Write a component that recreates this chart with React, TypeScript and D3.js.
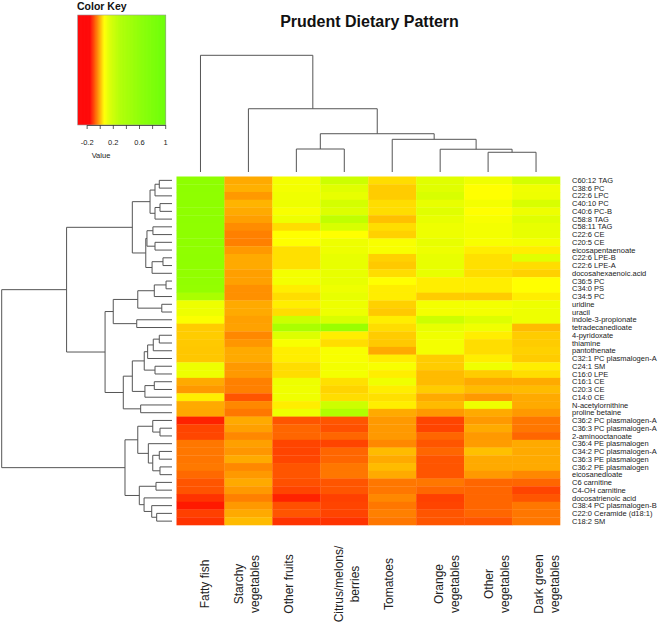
import React from "react";
import * as d3 from "d3";

const rowLabels = [
  "C60:12 TAG", "C38:6 PC", "C22:6 LPC", "C40:10 PC", "C40:6 PC-B", "C58:8 TAG", "C58:11 TAG",
  "C22:6 CE", "C20:5 CE", "eicosapentaenoate", "C22:6 LPE-B", "C22:6 LPE-A", "docosahexaenoic.acid",
  "C36:5 PC", "C34:0 PS", "C34:5 PC", "uridine", "uracil", "indole-3-propionate", "tetradecanedioate",
  "4-pyridoxate", "thiamine", "pantothenate", "C32:1 PC plasmalogen-A", "C24:1 SM", "C16:0 LPE",
  "C16:1 CE", "C20:3 CE", "C14:0 CE", "N-acetylornithine", "proline betaine", "C36:2 PC plasmalogen-A",
  "C36:3 PC plasmalogen-A", "2-aminooctanoate", "C36:4 PE plasmalogen", "C34:2 PC plasmalogen-A",
  "C36:3 PE plasmalogen", "C36:2 PE plasmalogen", "eicosanedioate", "C6 carnitine", "C4-OH carnitine",
  "docosatrienoic acid", "C38:4 PC plasmalogen-B", "C22:0 Ceramide (d18:1)", "C18:2 SM",
];

const colLabels = [
  "Fatty fish", "Starchy vegetables", "Other fruits", "Citrus/melons/berries", "Tomatoes",
  "Orange vegetables", "Other vegetables", "Dark green vegetables",
];
const colLabelLines = [
  ["", "Fatty fish"], ["Starchy", "vegetables"], ["Other fruits"], ["Citrus/melons/", "berries"],
  ["Tomatoes"], ["Orange", "vegetables"], ["Other", "vegetables"], ["Dark green", "vegetables"],
];

const fattyFish = [0.58, 0.58, 0.57, 0.58, 0.57, 0.58, 0.57, 0.58, 0.57, 0.56, 0.57, 0.56, 0.55, 0.55, 0.53, 0.35, 0.099, 0.1, 0.07, 0.016, 0.016, 0.013, 0.012, 0.012, 0.1, 0.1, -0.013, -0.028, 0.045, -0.013, -0.015, -0.131, -0.101, -0.1, -0.057, -0.057, -0.058, -0.056, -0.069, -0.087, -0.088, -0.116, -0.138, -0.105, -0.116];
const starchyVeg = [-0.013, -0.008, -0.028, -0.005, -0.013, -0.023, -0.039, -0.05, -0.05, -0.028, -0.013, -0.013, -0.023, -0.022, -0.036, -0.036, -0.013, -0.013, -0.022, -0.02, -0.043, -0.031, -0.013, -0.013, -0.028, -0.028, -0.05, -0.05, -0.087, -0.043, -0.057, -0.013, -0.022, -0.043, -0.022, -0.031, -0.013, -0.043, -0.028, -0.013, -0.028, -0.05, -0.028, -0.013, 0.001];
const otherFruits = [0.085, 0.085, 0.094, 0.099, 0.076, 0.099, 0.031, 0.06, 0.062, 0.033, 0.033, 0.033, 0.085, 0.085, 0.045, 0.031, 0.045, 0.031, 0.195, 0.35, 0.138, 0.076, 0.045, 0.045, 0.031, 0.031, 0.099, 0.094, 0.094, 0.045, 0.099, -0.087, -0.072, -0.072, -0.101, -0.101, -0.1, -0.087, -0.087, -0.091, -0.101, -0.131, -0.091, -0.087, -0.116];
const citrus = [0.195, 0.132, 0.113, 0.165, 0.138, 0.24, 0.15, 0.06, 0.099, 0.099, 0.113, 0.113, 0.113, 0.113, 0.099, 0.113, 0.099, 0.099, 0.15, 0.49, 0.045, 0.031, 0.076, 0.076, 0.085, 0.085, 0.033, 0.023, 0.031, 0.195, 0.3, -0.087, -0.091, -0.072, -0.101, -0.072, -0.072, -0.057, -0.057, -0.087, -0.087, -0.105, -0.101, -0.101, -0.116];
const tomatoes = [0.031, 0.016, 0.016, 0.031, 0.031, 0.006, 0.031, 0.02, 0.076, 0.076, 0.02, 0.013, 0.031, 0.06, 0.045, 0.045, 0.02, 0.013, 0.045, 0.031, 0.016, 0.013, -0.013, 0.045, 0.076, 0.045, 0.094, 0.045, 0.033, 0.045, -0.013, -0.028, -0.028, -0.028, -0.043, 0.001, -0.013, 0.001, -0.013, -0.057, -0.057, -0.043, -0.057, -0.05, -0.057];
const orangeVeg = [0.132, 0.132, 0.15, 0.113, 0.132, 0.113, 0.099, 0.099, 0.113, 0.099, 0.113, 0.113, 0.113, 0.045, 0.045, 0.016, 0.085, 0.085, 0.195, 0.113, 0.094, 0.085, 0.085, 0.016, 0.016, 0.001, 0.001, 0.016, -0.013, 0.001, -0.028, -0.101, -0.101, -0.072, -0.087, -0.072, -0.087, -0.087, -0.087, -0.057, -0.072, -0.105, -0.101, -0.087, -0.087];
const otherVeg = [0.094, 0.06, 0.06, 0.085, 0.06, 0.076, 0.085, 0.085, 0.076, 0.045, 0.033, 0.033, 0.031, 0.045, 0.045, 0.016, 0.085, 0.085, 0.138, 0.094, 0.045, 0.031, 0.031, 0.045, 0.094, 0.016, -0.013, 0.001, -0.028, 0.099, -0.013, -0.028, -0.013, -0.028, -0.025, 0.006, -0.013, -0.013, -0.028, -0.072, -0.072, -0.072, -0.072, -0.072, -0.087];
const darkGreenVeg = [0.165, 0.094, 0.099, 0.15, 0.099, 0.132, 0.113, 0.113, 0.085, 0.045, 0.132, 0.031, 0.02, 0.06, 0.06, 0.045, 0.099, 0.099, 0.099, 0.001, 0.016, 0.016, 0.02, 0.016, 0.045, 0.031, -0.013, 0.001, -0.013, -0.013, -0.028, -0.057, -0.057, -0.072, -0.013, -0.013, -0.013, -0.013, -0.043, -0.072, -0.101, -0.087, -0.057, -0.057, -0.057];

const seriesValues = [fattyFish, starchyVeg, otherFruits, citrus, tomatoes, orangeVeg, otherVeg, darkGreenVeg];

// Dendrograms: leaves are row / column indices, h = merge height (relative)
type Tree = number | { h: number; c: Tree[] };
const N = (h: number, ...c: Tree[]): Tree => ({ h, c });

const rowTree: Tree = N(1.0,
  N(0.619,
    N(0.233,
      N(0.129, N(0.0998, N(0.0746, 0, 1), 2), N(0.0998, N(0.0705, 3, 4), 5)),
      N(0.154, N(0.147, N(0.112, 6, 7), N(0.0998, 8, 9)), N(0.117, N(0.053, 10, 11), 12))),
    N(0.393,
      N(0.345,
        N(0.201, N(0.104, N(0.035, 13, 14), 15), N(0.06, 16, 17)),
        N(0.207, 18, 19)),
      N(0.286,
        N(0.233,
          N(0.163, N(0.143, N(0.11, N(0.0746, 20, 21), 22), 23), N(0.0998, 24, 25)),
          N(0.159, N(0.104, 26, 27), 28)),
        N(0.184, 29, 30)))),
  N(0.276,
    N(0.201,
      N(0.113, 31, N(0.0705, 32, 33)),
      N(0.139, 34, N(0.113, N(0.0746, 35, 36), N(0.0705, 37, 38)))),
    N(0.192,
      N(0.094, 39, 40),
      N(0.164, 41, N(0.119, 42, N(0.09, 43, 44))))));

const colTree: Tree = N(1.0, 0, N(0.542, 1, N(0.328, N(0.197, 2, 3), N(0.28, 4, N(0.195, 5, N(0.169, 6, 7))))));

const keyTicks = [-0.2, 0, 0.2, 0.4, 0.6, 0.8, 1];
const keyTickLabels = [-0.2, 0.2, 0.6, 1];

const W = 661, H = 633;
const FONT = "'Liberation Sans', Arial, Helvetica, sans-serif";

const colorScale = d3.scaleLinear<string>()
  .domain([-0.344, -0.16, 0.06, 0.15, 0.3, 0.63, 1.0])
  .range(["#ff0000", "#ff0000", "#ffff00", "#d8ff00", "#b0ff00", "#88ff00", "#66ff00"])
  .interpolate(d3.interpolateRgb)
  .clamp(true);

function dendroPaths(tree: Tree, leafPos: (i: number) => number, hPos: (h: number) => number, horizontal: boolean) {
  const root = d3.hierarchy<Tree>(tree, (d) => (typeof d === "number" ? null : d.c));
  const pos = new Map<any, number>();
  const hh = (n: any) => (typeof n.data === "number" ? 0 : n.data.h);
  root.eachAfter((n) => {
    if (!n.children) pos.set(n, leafPos(n.data as number));
    else {
      const a = pos.get(n.children[0])!;
      const b = pos.get(n.children[n.children.length - 1])!;
      pos.set(n, (a + b) / 2);
    }
  });
  const paths: string[] = [];
  root.each((n) => {
    if (!n.children) return;
    const [c1, c2] = n.children;
    const p1 = pos.get(c1)!, p2 = pos.get(c2)!;
    const hn = hPos(hh(n)), h1 = hPos(hh(c1)), h2 = hPos(hh(c2));
    if (horizontal) {
      // row dendrogram: height along x, position along y
      paths.push(`M${h1},${p1}H${hn}V${p2}H${h2}`);
    } else {
      paths.push(`M${p1},${h1}V${hn}H${p2}V${h2}`);
    }
  });
  return paths;
}

export default function App() {
  const hmLeft = 176.5, hmRight = 560, hmTop = 176.5, hmBottom = 525;
  const x = d3.scaleBand<number>().domain(d3.range(colLabels.length)).range([hmLeft, hmRight]);
  const y = d3.scaleBand<number>().domain(d3.range(rowLabels.length)).range([hmTop, hmBottom]);

  const colH = d3.scaleLinear().domain([0, 1]).range([172, 55.3]);
  const rowH = d3.scaleLinear().domain([0, 1]).range([172, 1.7]);

  const colPaths = dendroPaths(colTree, (i) => x(i)! + x.bandwidth() / 2, colH, false);
  const rowPaths = dendroPaths(rowTree, (i) => y(i)! + y.bandwidth() / 2, rowH, true);

  const keyX = d3.scaleLinear().domain([-0.344, 1]).range([77.7, 165.7]);
  const keyTop = 15, keyBottom = 125;
  const keySteps = d3.range(0, 200).map((i) => -0.344 + (i * 1.344) / 200);

  const labelX = d3.scaleLinear().domain([0, 7]).range([188.3, 538.3]);

  return (
    <svg width={W} height={H} style={{ position: "absolute", left: 0, top: 0, background: "#fff" }} fontFamily={FONT}>
      <rect width={W} height={H} fill="#fff" />
      {/* Color key */}
      <text x={77} y={9.5} fontSize={10.5} fontWeight="bold" fill="#111">Color Key</text>
      {keySteps.map((v, i) => (
        <rect key={i} x={keyX(v)} y={keyTop} width={1.344 / 200 * 88 / 1.344 + 0.4} height={keyBottom - keyTop} fill={colorScale(v)} />
      ))}
      <rect x={77.7} y={keyTop} width={88} height={keyBottom - keyTop} fill="none" stroke="#999" strokeWidth={0.6} />
      <line x1={keyX(-0.2)} x2={keyX(1)} y1={keyBottom + 0.5} y2={keyBottom + 0.5} stroke="#333" strokeWidth={0.8} />
      {keyTicks.map((t) => (
        <line key={t} x1={keyX(t)} x2={keyX(t)} y1={keyBottom} y2={keyBottom + 4} stroke="#333" strokeWidth={0.8} />
      ))}
      {keyTickLabels.map((t) => (
        <text key={t} x={keyX(t)} y={145} fontSize={7.5} textAnchor="middle" fill="#222">{String(t)}</text>
      ))}
      <text x={101} y={157.5} fontSize={7.5} textAnchor="middle" fill="#222">Value</text>

      {/* Title */}
      <text x={369.5} y={27} fontSize={16} fontWeight="bold" textAnchor="middle" fill="#111">Prudent Dietary Pattern</text>

      {/* Column dendrogram */}
      {colPaths.map((d, i) => (
        <path key={i} d={d} fill="none" stroke="#555" strokeWidth={1} />
      ))}
      {/* Row dendrogram */}
      {rowPaths.map((d, i) => (
        <path key={i} d={d} fill="none" stroke="#555" strokeWidth={1} />
      ))}

      {/* Heatmap */}
      {seriesValues.map((vals, ci) =>
        vals.map((v, ri) => (
          <rect key={`${ci}-${ri}`} x={x(ci)} y={y(ri)} width={x.bandwidth() + 0.3} height={y.bandwidth() + 0.3} fill={colorScale(v)} />
        ))
      )}

      {/* Row labels */}
      {rowLabels.map((r, i) => (
        <text key={r} x={572} y={y(i)! + y.bandwidth() / 2} dy="0.35em" fontSize={7.5} fill="#222">{r}</text>
      ))}

      {/* Column labels */}
      {colLabelLines.map((lines, i) =>
        lines.map((ln, k) =>
          ln ? (
            <text key={`${i}-${k}`} transform={`translate(${labelX(i) + 16.7 * k},584) rotate(-90)`} dy="0.35em" fontSize={12} textAnchor="middle" fill="#222">{ln}</text>
          ) : null
        )
      )}
    </svg>
  );
}
